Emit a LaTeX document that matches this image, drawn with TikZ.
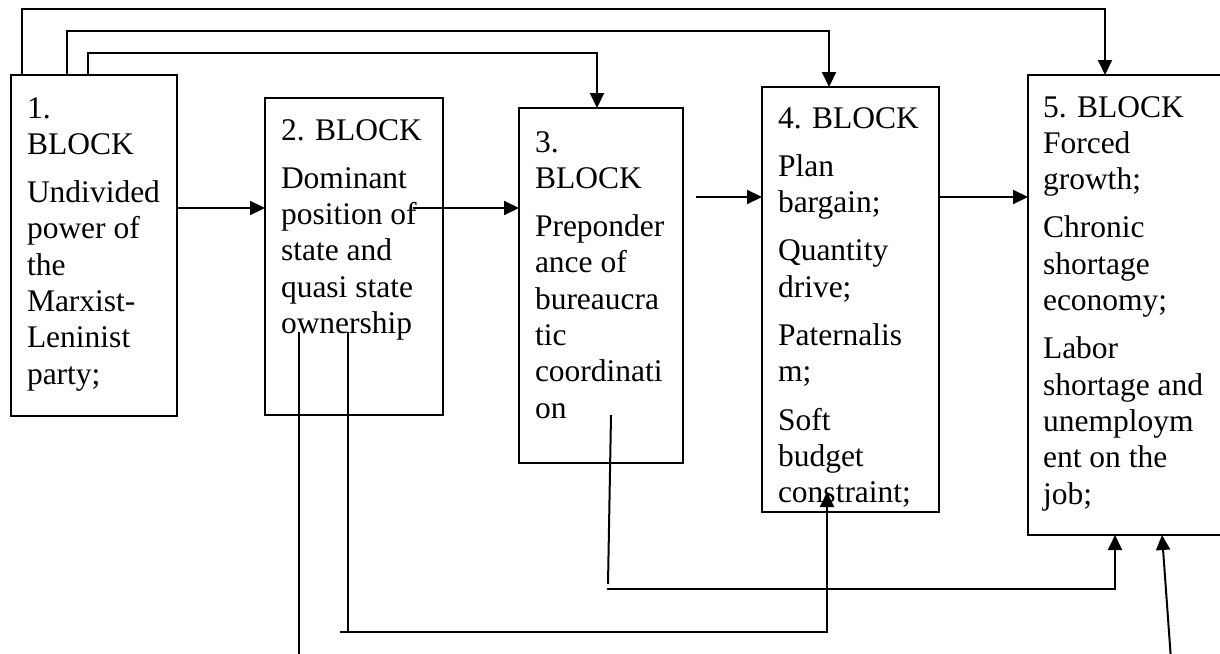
\documentclass[tikz,border=0pt]{standalone}
\usepackage{fontspec}
\setmainfont{Liberation Serif}
\usetikzlibrary{arrows.meta,calc}

% one printed line of a block, a paragraph gap, and the stacked text of a block
\newcommand\bkline[1]{\hbox{#1}}
\newcommand\bkgap{\vskip6pt}
\newcommand\bktext[1]{\vtop{\baselineskip=18.15pt\lineskiplimit=-50pt\lineskip=0pt #1}}

\begin{document}
\begin{tikzpicture}[x=0.5pt,y=-0.5pt,
  box/.style={draw, line width=1pt, rectangle, inner sep=0pt, outer sep=0pt, anchor=north west},
  txt/.style={anchor=base west, inner sep=0pt, outer sep=0pt, font=\fontsize{15.75pt}{18.15pt}\selectfont},
  link/.style={line width=1pt},
  arr/.style={link, -{Triangle[length=7.5pt,width=7pt]}}]
\useasboundingbox (0,0) rectangle (1220,653);
\fill[white] (0,0) rectangle (1220,653);

% the five blocks
\node[box, minimum width=83pt,  minimum height=170.5pt] (b1) at (11,75)   {};
\node[box, minimum width=89pt,  minimum height=158.5pt] (b2) at (265,98)  {};
\node[box, minimum width=82pt,  minimum height=177.5pt] (b3) at (519,108) {};
\node[box, minimum width=88.5pt,minimum height=212.5pt] (b4) at (762,87)  {};
\node[box, minimum width=101pt, minimum height=230pt]   (b5) at (1028,75) {};

% block texts
\node[txt] (t1) at (27,118) {\bktext{\bkline{1.}\bkline{BLOCK}\bkgap
  \bkline{Undivided}\bkline{power of}\bkline{the}\bkline{Marxist-}\bkline{Leninist}\bkline{party;}}};
\node[txt] (t2) at (281,140) {\bktext{\bkline{2. BLOCK}\bkgap
  \bkline{Dominant}\bkline{position of}\bkline{state and}\bkline{quasi state}\bkline{ownership}}};
\node[txt] (t3) at (535,152) {\bktext{\bkline{3.}\bkline{BLOCK}\bkgap
  \bkline{Preponder}\bkline{ance of}\bkline{bureaucra}\bkline{tic}\bkline{coordinati}\bkline{on}}};
\node[txt] (t4) at (778,128) {\bktext{\bkline{4. BLOCK}\bkgap
  \bkline{Plan}\bkline{bargain;}\bkgap
  \bkline{Quantity}\bkline{drive;}\bkgap
  \bkline{Paternalis}\bkline{m;}\bkgap
  \bkline{Soft}\bkline{budget}\bkline{constraint;}}};
\node[txt] (t5) at (1043,117) {\bktext{\bkline{5. BLOCK}
  \bkline{Forced}\bkline{growth;}\bkgap
  \bkline{Chronic}\bkline{shortage}\bkline{economy;}\bkgap
  \bkline{Labor}\bkline{shortage and}\bkline{unemploym}\bkline{ent on the}\bkline{job;}}};

% feedback lines over the top from block 1
\draw[arr] ($(b1.north west)+(11,0)$) -- ++(0,-66) -| ($(b5.north west)+(77,0)$);
\draw[arr] ($(b1.north west)+(56,0)$) -- ++(0,-44) -| ($(b4.north west)+(67,0)$);
\draw[arr] ($(b1.north west)+(77,0)$) -- ++(0,-22) -| ($(b3.north west)+(78,0)$);

% horizontal chain
\coordinate (s23) at (413,208);
\coordinate (s34) at (696,197);
\draw[arr] (b1.east |- s23) -- (b2.west |- s23);
\draw[arr] (s23) -- (s23 -| b3.west);
\draw[arr] (s34) -- (s34 -| b4.west);
\draw[arr] (b4.east |- s34) -- (b5.west |- s34);

% lines below the blocks
\coordinate (a0) at (299,332);
\coordinate (a1) at (299,660);
\draw[link] (a0) -- (a1);

\coordinate (m0) at (348,332);
\coordinate (m1) at (348,632);
\coordinate (m2) at (340,632);
\coordinate (m3) at ($(b4.south west)+(65,-20)$);
\draw[link] (m0) -- (m1);
\draw[arr] (m2) -| (m3);

\coordinate (c0) at (611,415);
\coordinate (c1) at (608,584);
\coordinate (c2) at (607,589);
\draw[link] (c0) -- (c1);
\draw[arr] (c2) -| ($(b5.south west)+(87,0)$);

\coordinate (d0) at (1171,660);
\draw[arr] (d0) -- ($(b5.south west)+(134,0)$);
\end{tikzpicture}
\end{document}
